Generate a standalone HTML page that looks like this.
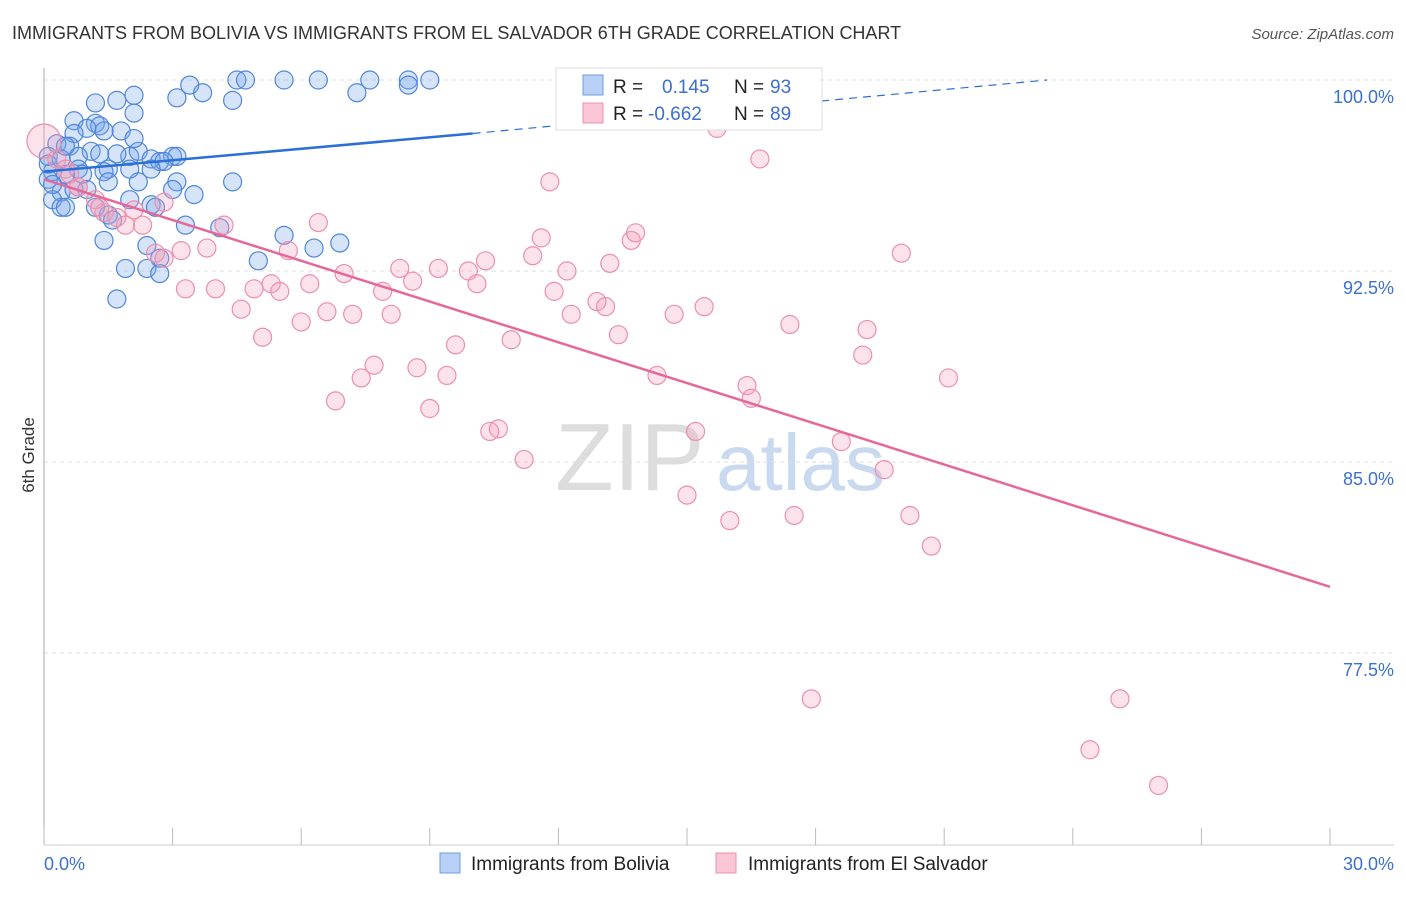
<!DOCTYPE html>
<html><head><meta charset="utf-8"><style>
body{margin:0;background:#fff;font-family:"Liberation Sans",sans-serif;}
svg text{font-family:"Liberation Sans",sans-serif;}
</style></head><body>
<svg id="chart" width="1406" height="892" xmlns="http://www.w3.org/2000/svg">
<text x="12" y="39" font-size="18" fill="#333">IMMIGRANTS FROM BOLIVIA VS IMMIGRANTS FROM EL SALVADOR 6TH GRADE CORRELATION CHART</text>
<text x="1394" y="39" font-size="15" fill="#555" text-anchor="end" font-style="italic">Source: ZipAtlas.com</text>
<text x="555" y="490" font-size="96" fill="#ddd" font-family="Liberation Serif">ZIP</text>
<text x="716" y="490" font-size="80" fill="#c9d9ef">atlas</text>
<text transform="translate(34,455) rotate(-90)" font-size="17" fill="#333" text-anchor="middle">6th Grade</text>
<g id="grid"></g><g id="axes"></g><g id="pts"></g><g id="lines"></g>
<g>
<rect x="556" y="68" width="266" height="62" fill="#fff" stroke="#ddd"/>
<rect x="583" y="75" width="20" height="20" fill="#b8d0f5" stroke="#6f9be0"/>
<rect x="583" y="103" width="20" height="20" fill="#fac6d6" stroke="#ec8fac"/>
<text x="613" y="93" font-size="19" fill="#222">R =</text><text x="662" y="93" font-size="19" fill="#3a70d0">0.145</text>
<text x="734" y="93" font-size="19" fill="#222">N =</text><text x="770" y="93" font-size="19" fill="#3a70d0">93</text>
<text x="613" y="120" font-size="19" fill="#222">R =</text><text x="648" y="120" font-size="19" fill="#3a70d0">-0.662</text>
<text x="734" y="120" font-size="19" fill="#222">N =</text><text x="770" y="120" font-size="19" fill="#3a70d0">89</text>
</g>
<g>
<rect x="440" y="853" width="20" height="20" fill="#b8d0f5" stroke="#6f9be0"/>
<text x="471" y="870" font-size="19" fill="#222">Immigrants from Bolivia</text>
<rect x="716" y="853" width="20" height="20" fill="#fac6d6" stroke="#ec8fac"/>
<text x="748" y="870" font-size="19" fill="#222">Immigrants from El Salvador</text>
</g>
</svg>
<script>
const yTicks=[100,92.5,85,77.5];
const yTickLabels=["100.0%","92.5%","85.0%","77.5%"];
const xTickLabels=["0.0%","30.0%"];
const bolX=[3.4,4.5,4.7,5.6,6.4,7.6,8.5,8.5,9.0,2.1,3.1,3.7,4.4,7.3,1.2,1.7,2.1,0.7,1.2,1.3,1.0,0.7,1.8,1.4,0.3,0.6,1.1,0.8,1.3,2.0,2.2,2.5,3.0,3.1,2.7,1.5,1.4,0.8,0.9,0.5,0.2,0.1,1.5,2.2,3.1,4.4,1.0,0.4,0.2,0.7,2.0,3.5,3.0,2.5,2.6,1.5,1.6,1.2,0.4,0.5,3.3,4.1,5.6,6.3,6.9,1.4,2.4,2.7,5.0,1.9,2.4,2.7,1.7,2.8,2.0,0.1,0.4,0.5,1.7,0.2,0.1,2.1,2.5];
const bolY=[99.8,100,100,100,100,100,100,99.8,100,99.4,99.3,99.5,99.2,99.5,99.1,99.2,98.7,98.4,98.3,98.2,98.1,97.9,98.0,98.0,97.5,97.4,97.2,97.0,97.1,97.0,97.2,96.9,97.0,97.0,96.8,96.5,96.4,96.5,96.3,96.3,96.4,96.1,96.0,96.0,96.0,96.0,95.7,95.6,95.3,95.7,95.3,95.5,95.7,95.1,95.0,94.7,94.5,95.0,95.0,95.0,94.3,94.2,93.9,93.4,93.6,93.7,93.5,93.0,92.9,92.6,92.6,92.4,91.4,96.8,96.5,97.0,96.9,97.4,97.1,95.9,96.7,97.7,96.5];
const salX=[0.0,0.3,0.5,0.6,0.8,1.2,1.4,1.7,1.9,2.1,2.3,2.8,2.6,2.8,3.2,3.3,3.8,4.0,4.2,4.6,4.9,5.1,5.3,5.5,5.7,6.0,6.2,6.4,6.6,6.8,7.0,7.2,7.4,7.7,7.9,8.1,8.3,8.6,8.7,9.0,9.2,9.4,9.6,9.9,10.1,10.3,10.4,10.6,10.9,11.2,11.4,11.6,11.8,11.9,12.2,12.3,12.9,13.1,13.2,13.4,13.7,13.8,14.3,14.7,15.0,15.2,15.4,15.7,16.0,16.4,16.5,16.7,17.4,17.5,17.9,18.6,19.1,19.2,19.6,20.0,20.2,20.7,21.1,24.4,25.1,26.0,0.8,1.3];
const salY=[97.6,96.9,96.5,96.3,95.8,95.3,94.8,94.6,94.3,94.9,94.3,95.2,93.2,93.0,93.3,91.8,93.4,91.8,94.3,91.0,91.8,89.9,92.0,91.7,93.3,90.5,92.0,94.4,90.9,87.4,92.4,90.8,88.3,88.8,91.7,90.8,92.6,92.1,88.7,87.1,92.6,88.4,89.6,92.5,92.0,92.9,86.2,86.3,89.8,85.1,93.1,93.8,96.0,91.7,92.5,90.8,91.3,91.1,92.8,90.0,93.7,94.0,88.4,90.8,83.7,86.2,91.1,98.1,82.7,88.0,87.5,96.9,90.4,82.9,75.7,85.8,89.2,90.2,84.7,93.2,82.9,81.7,88.3,73.7,75.7,72.3,95.8,95.0];
const bolTrend=[[0,96.4],[10,97.9],[23.4,100]];
const salTrend=[[0,96.1],[30,80.1]];
const X=v=>44+v/30*1286, Y=v=>80+(100-v)/7.5*191;
const NS="http://www.w3.org/2000/svg";
function mk(t,a,p){const e=document.createElementNS(NS,t);for(const k in a)e.setAttribute(k,a[k]);p.appendChild(e);return e;}
const grid=document.getElementById('grid'),axes=document.getElementById('axes'),pts=document.getElementById('pts'),lines=document.getElementById('lines');
yTicks.forEach((t,i)=>{
const g=mk('line',{x1:44,x2:1394,y1:Y(t),y2:Y(t),stroke:'#ddd','stroke-dasharray':'4,4'},grid);


const l=mk('text',{x:1394,y:Y(t)+23,'font-size':18,fill:'#3a70d0','text-anchor':'end'},axes);l.textContent=yTickLabels[i];


});
const ax=mk('line',{x1:44,x2:44,y1:68,y2:845,stroke:'#aaa'},axes);


const bx=mk('line',{x1:44,x2:1394,y1:845,y2:845,stroke:'#ccc'},axes);


for(let i=0;i<=10;i++){const tk=mk('line',{x1:X(i*3),x2:X(i*3),y1:828,y2:845,stroke:'#bbb'},axes);

}
[[0,'start'],[30,'end']].forEach((d,i)=>{const t=mk('text',{x:i?1394:44,y:870,'font-size':18,fill:'#3a70d0','text-anchor':d[1]},axes);t.textContent=xTickLabels[i];

});
bolX.forEach((v,i)=>{const c=mk('circle',{cx:X(v),cy:Y(bolY[i]),r:9,fill:'rgba(120,165,235,0.3)',stroke:'#4f86da','stroke-width':1.2},pts);

});
salX.forEach((v,i)=>{const c=mk('circle',{cx:X(v),cy:Y(salY[i]),r:i==0?17:9,fill:'rgba(245,160,185,0.3)',stroke:'#ec8fac','stroke-width':1.2},pts);

});
const b1=mk('line',{x1:X(bolTrend[0][0]),y1:Y(bolTrend[0][1]),x2:X(bolTrend[1][0]),y2:Y(bolTrend[1][1]),stroke:'#2a6fd6','stroke-width':2.5},lines);


const b2=mk('line',{x1:X(bolTrend[1][0]),y1:Y(bolTrend[1][1]),x2:X(bolTrend[2][0]),y2:Y(bolTrend[2][1]),stroke:'#2a6fd6','stroke-width':1.2,'stroke-dasharray':'8,6'},lines);


const s1=mk('line',{x1:X(salTrend[0][0]),y1:Y(salTrend[0][1]),x2:X(salTrend[1][0]),y2:Y(salTrend[1][1]),stroke:'#e5689a','stroke-width':2.5},lines);


</script>
</body></html>
